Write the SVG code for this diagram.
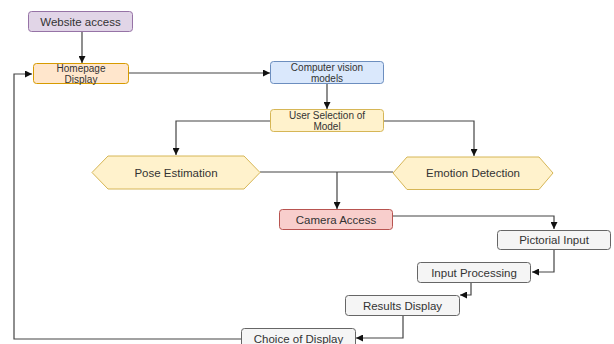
<svg xmlns="http://www.w3.org/2000/svg" width="614" height="344" viewBox="0 0 614 344">
<defs>
<marker id="arr" viewBox="0 0 10 10" refX="10" refY="5" markerWidth="7" markerHeight="7" markerUnits="userSpaceOnUse" orient="auto">
<path d="M0,0 L10,5 L0,10 z" fill="#111"/>
</marker>
<style>
.t{font-family:"Liberation Sans",Arial,sans-serif;font-size:11.5px;fill:#333;text-anchor:middle;dominant-baseline:central}
.t2{font-family:"Liberation Sans",Arial,sans-serif;font-size:10px;fill:#333;text-anchor:middle;dominant-baseline:central}
.c{fill:none;stroke:#444;stroke-width:1.2}
.purple{fill:#e1d5e7;stroke:#9673a6}
.orange{fill:#ffe6cc;stroke:#d79b00}
.blue{fill:#dae8fc;stroke:#6c8ebf}
.yellow{fill:#fff2cc;stroke:#d6b656}
.red{fill:#f8cecc;stroke:#b85450}
.grey{fill:#f5f5f5;stroke:#666666}
</style>
</defs>
<rect width="614" height="344" fill="#ffffff"/>
<g id="connectors">
<path class="c" d="M82,31 V63" marker-end="url(#arr)"/>
<path class="c" d="M128,73 H270" marker-end="url(#arr)"/>
<path class="c" d="M327,84 V109" marker-end="url(#arr)"/>
<path class="c" d="M271,121 H176 V155" marker-end="url(#arr)"/>
<path class="c" d="M383,121 H474 V156" marker-end="url(#arr)"/>
<path class="c" d="M260,172 H393"/>
<path class="c" d="M337,172 V209" marker-end="url(#arr)"/>
<path class="c" d="M393,216 H554 V229" marker-end="url(#arr)"/>
<path class="c" d="M554,250 V272 H532" marker-end="url(#arr)"/>
<path class="c" d="M471,283 V295 H460" marker-end="url(#arr)"/>
<path class="c" d="M403,315 V338 H356" marker-end="url(#arr)"/>
<path class="c" d="M242,339 H14 V74 H32" marker-end="url(#arr)"/>
</g>
<g id="website-access">
<rect class="purple" x="28.5" y="11.5" width="104" height="20" rx="3"/>
<text class="t" x="80.5" y="21.5">Website access</text>
</g>
<g id="homepage-display">
<rect class="orange" x="33.5" y="63.5" width="95" height="20" rx="3"/>
<text class="t2" x="81" y="68">Homepage</text>
<text class="t2" x="81" y="79">Display</text>
</g>
<g id="computer-vision">
<rect class="blue" x="270.5" y="61.5" width="113" height="22" rx="3"/>
<text class="t2" x="327" y="67">Computer vision</text>
<text class="t2" x="327" y="78">models</text>
</g>
<g id="user-selection">
<rect class="yellow" x="270.5" y="109.5" width="113" height="22" rx="3"/>
<text class="t2" x="327" y="115">User Selection of</text>
<text class="t2" x="327" y="126">Model</text>
</g>
<g id="pose-estimation">
<polygon class="yellow" points="92,172.5 108,156 244,156 260,172.5 244,189 108,189"/>
<text class="t" x="176" y="172.5">Pose Estimation</text>
</g>
<g id="emotion-detection">
<polygon class="yellow" points="393,173 407,157 539,157 553,173 539,189.5 407,189.5"/>
<text class="t" x="473" y="173">Emotion Detection</text>
</g>
<g id="camera-access">
<rect class="red" x="279.5" y="209.5" width="113" height="20" rx="3"/>
<text class="t" x="336" y="219.5">Camera Access</text>
</g>
<g id="pictorial-input">
<rect class="grey" x="497.5" y="230.5" width="113" height="19" rx="3"/>
<text class="t" x="554" y="240">Pictorial Input</text>
</g>
<g id="input-processing">
<rect class="grey" x="417.5" y="262.5" width="113" height="20" rx="3"/>
<text class="t" x="474" y="272.5">Input Processing</text>
</g>
<g id="results-display">
<rect class="grey" x="345.5" y="295.5" width="114" height="20" rx="3"/>
<text class="t" x="402.5" y="305.5">Results Display</text>
</g>
<g id="choice-of-display">
<rect class="grey" x="241.5" y="328.5" width="114" height="20" rx="3"/>
<text class="t" x="298.5" y="338.5">Choice of Display</text>
</g>
</svg>
